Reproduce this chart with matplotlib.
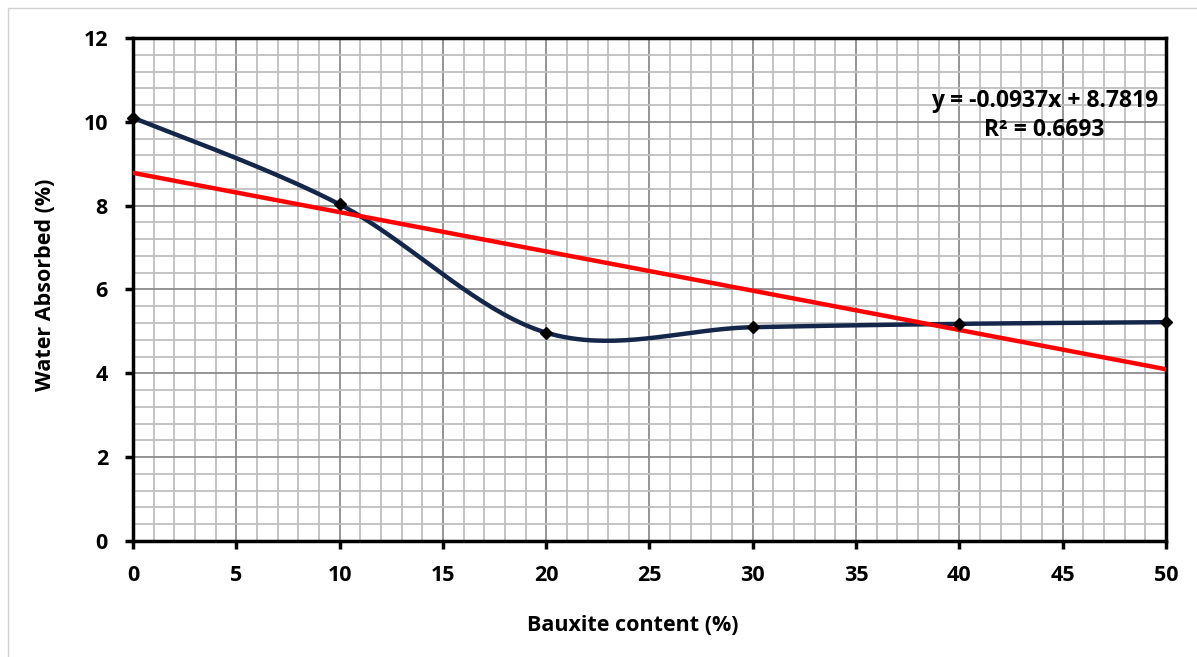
import numpy as np
import matplotlib.pyplot as plt
from matplotlib.patches import Rectangle

# data
bauxite = [0, 10, 20, 30, 40, 50]
water = [10.1, 8.03, 4.97, 5.1, 5.18, 5.22]
slope, intercept = -0.0937, 8.7819
eq_text = "y = -0.0937x + 8.7819\nR² = 0.6693"

plt.rcParams['font.family'] = ['Open Sans', 'DejaVu Sans']
plt.rcParams['font.weight'] = 'bold'


def excel_smooth(x, y, n=40):
    # Bezier smoothing in the style of spreadsheet "smoothed line"
    x = np.asarray(x, float)
    y = np.asarray(y, float)
    px = np.concatenate([[x[0]], x, [x[-1]]])
    py = np.concatenate([[y[0]], y, [y[-1]]])
    xs, ys = [], []
    t = np.linspace(0, 1, n)
    for i in range(1, len(x)):
        p0 = np.array([px[i], py[i]])
        p3 = np.array([px[i + 1], py[i + 1]])
        p1 = p0 + (p3 - np.array([px[i - 1], py[i - 1]])) / 6
        p2 = p3 - (np.array([px[i + 2], py[i + 2]]) - p0) / 6
        b = ((1 - t) ** 3)[:, None] * p0 + (3 * (1 - t) ** 2 * t)[:, None] * p1 \
            + (3 * (1 - t) * t ** 2)[:, None] * p2 + (t ** 3)[:, None] * p3
        xs.extend(b[:, 0])
        ys.extend(b[:, 1])
    return xs, ys


fig = plt.figure(figsize=(11.97, 6.57), dpi=100)
ax = fig.add_axes([0.1111, 0.1766, 0.863, 0.7656])

ax.set_xlim(0, 50)
ax.set_ylim(0, 12)
ax.set_xticks(range(0, 51, 5))
ax.set_yticks(range(0, 13, 2))
ax.set_xticks(np.arange(0, 51, 1), minor=True)
ax.set_yticks(np.arange(0, 12.01, 0.4), minor=True)
ax.grid(which='minor', color='#bfbfbf', linewidth=1.3)
ax.grid(which='major', color='#8c8c8c', linewidth=1.3)
ax.set_axisbelow(True)
ax.tick_params(which='minor', length=0)
ax.tick_params(which='major', direction='out', length=6, width=2.5,
               labelsize=15.5)
ax.tick_params(axis='y', pad=12)
ax.tick_params(axis='x', pad=11)
for s in ax.spines.values():
    s.set_linewidth(2.5)
    s.set_color('black')

sx, sy = excel_smooth(bauxite, water)
ax.plot(sx, sy, color='#14264a', linewidth=3.2, zorder=3)
ax.plot(bauxite, water, linestyle='none', marker='D', markersize=6,
        color='black', zorder=4, clip_on=False)

tx = np.array([0, 50])
ax.plot(tx, slope * tx + intercept, color='#ff0000', linewidth=3.2, zorder=3)

ax.text(44.1, 10.15, eq_text, ha='center', va='center', fontsize=16.5,
        fontweight='bold', linespacing=1.3)

ax.set_xlabel('Bauxite content (%)', fontsize=15.5, fontweight='bold')
ax.set_ylabel('Water Absorbed (%)', fontsize=15.5, fontweight='bold')
ax.xaxis.set_label_coords(0.484, -0.169)
ax.xaxis.label.set_va('center')
ax.yaxis.set_label_coords(-0.085, 0.509)
ax.yaxis.label.set_va('center')

fig.patches.append(Rectangle((0.007, -0.01), 1.0, 0.998, transform=fig.transFigure,
                             fill=False, edgecolor='#d0d0d0', linewidth=1))

fig.savefig('out.png', dpi=100)
